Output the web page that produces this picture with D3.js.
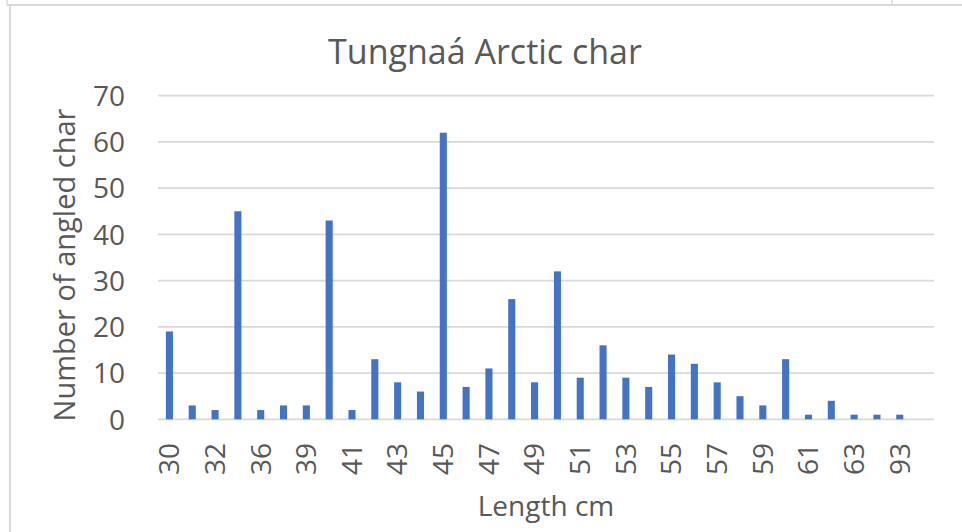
<!DOCTYPE html>
<html>
<head>
<meta charset="utf-8">
<script src="https://cdn.jsdelivr.net/npm/d3@7"></script>
<style>
  html, body { margin: 0; padding: 0; background: #fff; }
  svg { display: block; font-family: "Open Sans", sans-serif; }
</style>
</head>
<body>
<svg id="chart" width="962" height="532"></svg>
<script>
const categories = ["30","31","32","35","36","38","39","40","41","42","43","44","45","46","47","48","49","50","51","52","53","54","55","56","57","58","59","60","61","62","63","65","93",""];
const counts = [19,3,2,45,2,3,3,43,2,13,8,6,62,7,11,26,8,32,9,16,9,7,14,12,8,5,3,13,1,4,1,1,1,null];
const yTicks = [0,10,20,30,40,50,60,70];
const titleText = "Tungnaá Arctic char";
const xTitle = "Length cm";
const yTitle = "Number of angled char";

(function () {
const svg = d3.select("#chart");
const W = 962, H = 532;
const mLeft = 158, mRight = 934, mTop = 95.7, mBottom = 419.3;
const textColor = "#595959";

// sheet border artifacts
svg.append("line").attr("x1", 7).attr("x2", W).attr("y1", 5).attr("y2", 5)
  .attr("stroke", "#d9d9d9").attr("stroke-width", 2);
svg.append("line").attr("x1", 10).attr("x2", 10).attr("y1", 5).attr("y2", H)
  .attr("stroke", "#d9d9d9").attr("stroke-width", 2);
svg.append("line").attr("x1", 7).attr("x2", 7).attr("y1", 0).attr("y2", 5)
  .attr("stroke", "#d9d9d9").attr("stroke-width", 1.5);
svg.append("line").attr("x1", 892).attr("x2", 892).attr("y1", 0).attr("y2", 5)
  .attr("stroke", "#d9d9d9").attr("stroke-width", 1.5);

const data = categories.map((c, i) => ({ c, i, v: counts[i] }));

const x = d3.scaleBand().domain(d3.range(categories.length))
  .range([mLeft, mRight]).paddingInner(0.69).paddingOuter(0.345);
const y = d3.scaleLinear().domain([0, 70]).range([mBottom, mTop]);

// gridlines
svg.append("g").selectAll("line").data(yTicks).join("line")
  .attr("x1", mLeft).attr("x2", mRight)
  .attr("y1", d => y(d)).attr("y2", d => y(d))
  .attr("stroke", "#d9d9d9").attr("stroke-width", 1.8);

// bars
svg.append("g").selectAll("rect").data(data.filter(d => d.v != null)).join("rect")
  .attr("x", d => x(d.i)).attr("width", x.bandwidth())
  .attr("y", d => y(d.v)).attr("height", d => y(0) - y(d.v))
  .attr("fill", "#4472C4");

// y axis labels
const yAxis = d3.axisLeft(y).tickValues(yTicks).tickSize(0).tickPadding(0);
const gy = svg.append("g").attr("transform", "translate(125,0)").call(yAxis);
gy.select(".domain").remove();
gy.selectAll("text").attr("fill", textColor).style("font-size", "28px")
  .style("font-family", "'Open Sans', sans-serif").attr("dy", "0.35em");

// x axis labels
const xAxis = d3.axisBottom(x)
  .tickValues(d3.range(categories.length).filter(i => i % 2 === 0 && categories[i] !== ""))
  .tickFormat(i => categories[i]).tickSize(0).tickPadding(0);
const gx = svg.append("g").attr("transform", "translate(0,443)").call(xAxis);
gx.select(".domain").remove();
gx.selectAll("text").attr("fill", textColor).style("font-size", "28px")
  .style("font-family", "'Open Sans', sans-serif")
  .attr("transform", "rotate(-90)").attr("text-anchor", "end")
  .attr("x", 0).attr("y", 0).attr("dy", "0.35em");

// titles
svg.append("text").attr("x", 485).attr("y", 64).attr("text-anchor", "middle")
  .attr("fill", textColor).style("font-size", "34px").text(titleText);
svg.append("text").attr("x", 546).attr("y", 516).attr("text-anchor", "middle")
  .attr("fill", textColor).style("font-size", "28px").text(xTitle);
svg.append("text").attr("transform", "translate(75,265) rotate(-90)")
  .attr("text-anchor", "middle").attr("fill", textColor)
  .style("font-size", "29px").text(yTitle);
})();
</script>
</body>
</html>
